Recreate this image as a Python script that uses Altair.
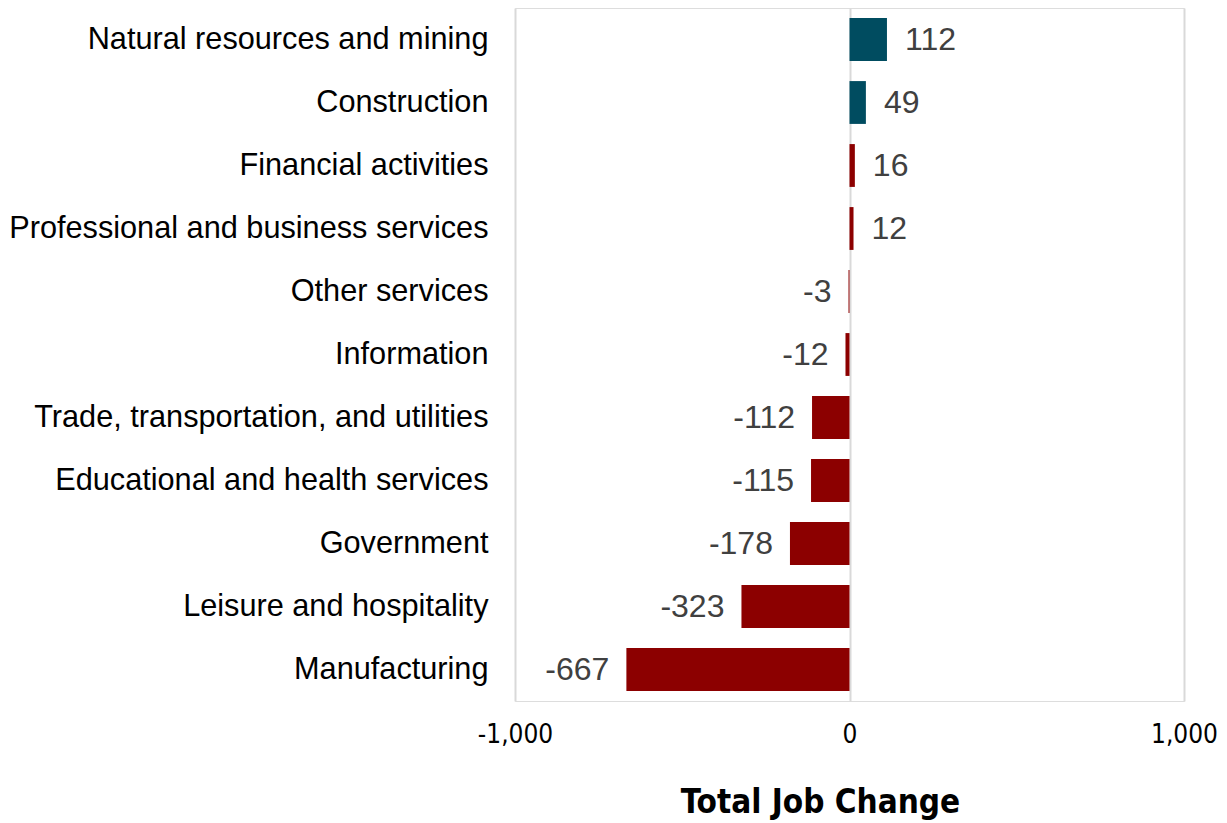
import altair as alt
import pandas as pd

industries = [
    "Natural resources and mining",
    "Construction",
    "Financial activities",
    "Professional and business services",
    "Other services",
    "Information",
    "Trade, transportation, and utilities",
    "Educational and health services",
    "Government",
    "Leisure and hospitality",
    "Manufacturing",
]
changes = [112, 49, 16, 12, -3, -12, -112, -115, -178, -323, -667]
groups = ["up", "up", "down", "down", "down", "down", "down", "down", "down", "down", "down"]

df = pd.DataFrame({"industry": industries, "change": changes, "group": groups})

cond_font = "DejaVu Sans Condensed, Liberation Sans Narrow, Roboto, sans-serif"

y_enc = alt.Y("industry:N", sort=industries, title=None,
              scale=alt.Scale(paddingInner=0.32),
              axis=alt.Axis(labelFont="Liberation Sans", labelFontSize=30.7, labelColor="#000000",
                            labelPadding=27, ticks=False, domain=False, grid=False, labelLimit=700))

x_enc = alt.X("change:Q", title="Total Job Change",
              scale=alt.Scale(domain=[-1000, 1000]),
              axis=alt.Axis(values=[-1000, 0, 1000],
                            labelExpr="replace(format(datum.value, ',.0f'), '\u2212', '-')",
                            labelFont=cond_font, labelFlush=False,
                            labelFontSize=26, labelColor="#000000", labelPadding=20,
                            ticks=False, domain=False, grid=True, gridColor="#d9d9d9", gridWidth=2,
                            titleFont=cond_font, titleFontSize=33, titleFontWeight="bold",
                            titleColor="#000000", titlePadding=39, titleX=305))

bars = alt.Chart(df).mark_bar().encode(
    x=x_enc,
    y=y_enc,
    color=alt.Color("group:N", scale=alt.Scale(domain=["up", "down"], range=["#004c60", "#8c0000"]), legend=None),
)

base = alt.Chart(df).transform_calculate(
    label="replace(format(datum.change, 'd'), '\u2212', '-')"
)

pos = base.transform_filter("datum.change > 0").mark_text(
    align="left", baseline="middle", dx=18, font="Liberation Sans", fontSize=32, color="#404040"
).encode(x="change:Q", y=alt.Y("industry:N", sort=industries), text="label:N")

neg = base.transform_filter("datum.change < 0").mark_text(
    align="right", baseline="middle", dx=-17, font="Liberation Sans", fontSize=32, color="#404040"
).encode(x="change:Q", y=alt.Y("industry:N", sort=industries), text="label:N")

chart = alt.layer(bars, pos, neg).properties(
    width=669, height=693,
    autosize=alt.AutoSizeParams(type="none"),
    padding={"left": 507, "top": 0, "right": 35, "bottom": 130},
).configure_view(fill="#f9f9f9", strokeWidth=0, stroke="transparent").configure(background="#ffffff")

chart.save("out.html", embed_options={"renderer": "svg", "actions": False})
